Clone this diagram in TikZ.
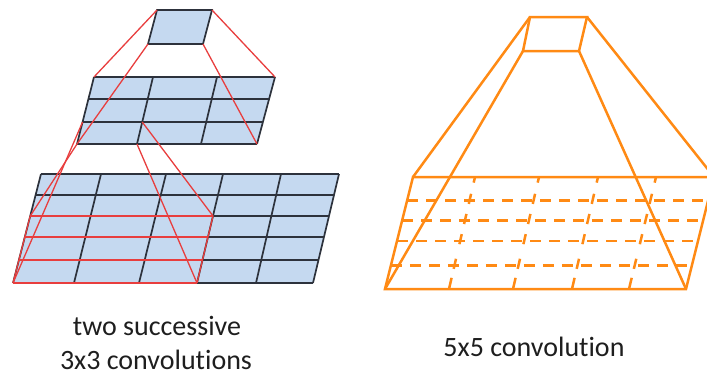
\documentclass[tikz,border=0pt]{standalone}
\usepackage{fontspec}
\setmainfont[Ligatures=NoCommon]{Carlito}
\usetikzlibrary{calc}
\definecolor{cellblue}{RGB}{197,217,240}
\definecolor{gridgray}{RGB}{45,50,60}
\definecolor{linkred}{RGB}{232,62,62}
\definecolor{convorange}{RGB}{255,138,20}
\definecolor{textgray}{RGB}{30,30,30}
\begin{document}
\begin{tikzpicture}[x=1pt,y=-1pt,
  cellfill/.style={fill=cellblue,draw=gridgray,line width=1.7pt},
  gridline/.style={draw=gridgray,line width=1.7pt},
  redline/.style={draw=linkred,line width=1.3pt},
  orangeline/.style={draw=convorange,line width=2.5pt},
  lbl/.style={font=\fontsize{28}{34}\selectfont,text=textgray,inner sep=0pt,anchor=base}]
\useasboundingbox (0,0) rectangle (707,376);
\clip (0,0) rectangle (707,376);
\coordinate (sTL) at (157,10);
\coordinate (sTR) at (212,10);
\coordinate (sBR) at (203,44);
\coordinate (sBL) at (148,44);
\coordinate (mTL) at (94,77);
\coordinate (mTR) at (275,77);
\coordinate (mBR) at (257,144);
\coordinate (mBL) at (77,144);
\coordinate (m1T) at (153,77);
\coordinate (m1B) at (137,144);
\coordinate (bTL) at (41,174);
\coordinate (bTR) at (339,174);
\coordinate (bBR) at (313,283);
\coordinate (bBL) at (13,283);
\coordinate (b3T) at (223,174);
\coordinate (b3B) at (197,283);
\filldraw[cellfill] (sTL) -- (sTR) -- (sBR) -- (sBL) -- cycle;
\fill[cellblue] (mTL) -- (mTR) -- (mBR) -- (mBL) -- cycle;
\foreach \t in {0,0.328,0.672,1}
  \draw[gridline] ($(mTL)!\t!(mBL)$) -- ($(mTR)!\t!(mBR)$);
\foreach \a/\b in {94/77,153/137,217/201,275/257}
  \draw[gridline] (\a,77) -- (\b,144);
\fill[cellblue] (bTL) -- (bTR) -- (bBR) -- (bBL) -- cycle;
\foreach \t in {0,0.193,0.385,0.578,0.789,1}
  \draw[gridline] ($(bTL)!\t!(bBL)$) -- ($(bTR)!\t!(bBR)$);
\foreach \a/\b in {41/13,101/74,166/139,223/197,281/256,339/313}
  \draw[gridline] (\a,174) -- (\b,283);
\coordinate (cTL) at ($(mTL)!0.672!(mBL)$);
\coordinate (cTR) at ($(m1T)!0.672!(m1B)$);
\coordinate (rTL) at ($(bTL)!0.385!(bBL)$);
\coordinate (rTR) at ($(b3T)!0.385!(b3B)$);
\foreach \t in {0.385,0.578,0.789,1}
  \draw[redline] ($(bTL)!\t!(bBL)$) -- ($(b3T)!\t!(b3B)$);
\draw[redline] (rTL) -- (bBL);
\draw[redline] (rTR) -- (b3B);
\draw[redline] (sTL) -- (mTL);
\draw[redline] (sTR) -- (mTR);
\draw[redline] (sBL) -- (mBL);
\draw[redline] (sBR) -- (mBR);
\draw[redline] (cTL) -- (bBL);
\draw[redline] (mBL) -- (rTL);
\draw[redline] (cTR) -- (rTR);
\draw[redline] (m1B) -- (b3B);
\coordinate (oTL) at (530,17);
\coordinate (oTR) at (587,17);
\coordinate (oBR) at (579,51);
\coordinate (oBL) at (523,51);
\coordinate (pTL) at (413,177);
\coordinate (pTR) at (714,177);
\coordinate (pBR) at (686,289);
\coordinate (pBL) at (385,289);
\draw[orangeline] (oTL) -- (oTR) -- (oBR) -- (oBL) -- cycle;
\draw[orangeline] (pTL) -- (pTR) -- (pBR) -- (pBL) -- cycle;
\draw[orangeline] (oTL) -- (pTL);
\draw[orangeline] (oTR) -- (pTR);
\draw[orangeline] (oBL) -- (pBL);
\draw[orangeline] (oBR) -- (pBR);
\foreach \t in {0.21,0.39,0.57,0.79}
  \draw[orangeline,dash pattern=on 11pt off 8pt] ($(pTL)!\t!(pBL)$) -- ($(pTR)!\t!(pBR)$);
\foreach \a/\b in {475/449,539/513,598/572,656/629} {
  \draw[orangeline] (\a,177) -- ($(\a,177)!0.05!(\b,289)$);
  \foreach \t in {0.21,0.39,0.57,0.79}
    \draw[orangeline] ($(\a,177)!\t-0.06!(\b,289)$) -- ($(\a,177)!\t+0.03!(\b,289)$);
  \draw[orangeline] ($(\a,177)!0.9!(\b,289)$) -- (\b,289);
}
\node[lbl] (twosucc) at (157,335) {two successive};
\node[lbl] (threeconv) at (156,369) {3x3 convolutions};
\node[lbl] (fiveconv) at (534,356) {5x5 convolution};
\end{tikzpicture}
\end{document}
